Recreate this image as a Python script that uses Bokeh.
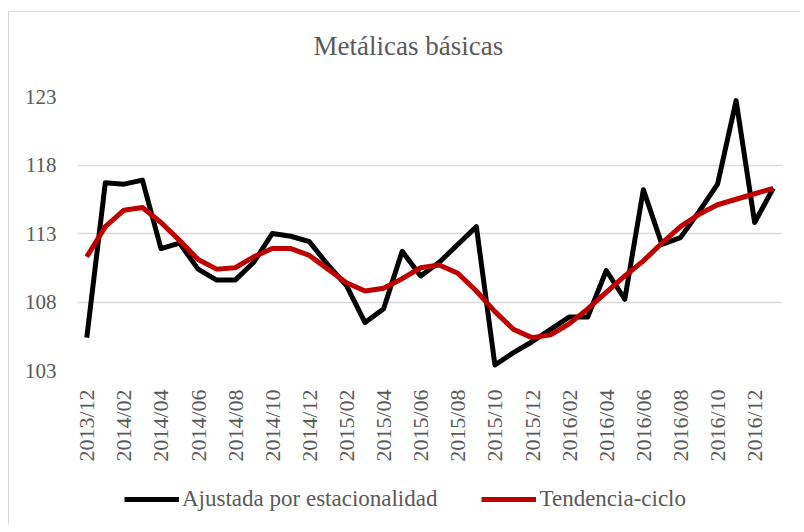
from bokeh.plotting import figure
from bokeh.layouts import column
from bokeh.models import FixedTicker, Legend, LegendItem, Title, Range1d
from bokeh.embed import file_html
from bokeh.resources import INLINE
import math

months = [
    "2013/12",
    "2014/01", "2014/02", "2014/03", "2014/04", "2014/05", "2014/06",
    "2014/07", "2014/08", "2014/09", "2014/10", "2014/11", "2014/12",
    "2015/01", "2015/02", "2015/03", "2015/04", "2015/05", "2015/06",
    "2015/07", "2015/08", "2015/09", "2015/10", "2015/11", "2015/12",
    "2016/01", "2016/02", "2016/03", "2016/04", "2016/05", "2016/06",
    "2016/07", "2016/08", "2016/09", "2016/10", "2016/11", "2016/12",
    "2017/01",
]

ajustada = [
    105.4, 116.7, 116.6, 116.9, 111.9, 112.3, 110.4, 109.6, 109.6, 110.9,
    113.0, 112.8, 112.4, 110.7, 109.2, 106.5, 107.5, 111.7, 109.9, 110.9,
    112.2, 113.5, 103.4, 104.3, 105.1, 106.0, 106.9, 106.9, 110.3, 108.2,
    116.2, 112.2, 112.7, 114.6, 116.6, 122.7, 113.8, 116.3,
]

tendencia = [
    111.3, 113.5, 114.7, 114.9, 113.8, 112.5, 111.1, 110.4, 110.5, 111.3,
    111.9, 111.9, 111.4, 110.4, 109.4, 108.8, 109.0, 109.7, 110.5, 110.7,
    110.1, 108.8, 107.3, 106.0, 105.4, 105.6, 106.4, 107.5, 108.7, 109.9,
    111.0, 112.3, 113.5, 114.4, 115.1, 115.5, 115.9, 116.3,
]

y_ticks = [103, 108, 113, 118, 123]
series_names = ["Ajustada por estacionalidad", "Tendencia-ciclo"]
series_colors = ["black", "#C00000"]
title_text = "Metálicas básicas"

x = list(range(len(months)))
tick_idx = [i for i in x if i % 2 == 0]

FONT = "Liberation Serif"
GRAY = "#595959"

p = figure(frame_width=705, frame_height=274, output_backend="svg",
           toolbar_location=None,
           x_range=(-0.5, len(months) - 0.5), y_range=(103, 123),
           min_border_left=68, min_border_right=18, min_border_top=84,
           min_border_bottom=0)
p.outline_line_color = None

# real title outermost, spacer next to the frame
p.title = Title(text=title_text, align="left", text_font=FONT,
                text_font_size="27px", text_font_style="normal",
                text_color=GRAY, standoff=10, offset=236)
p.add_layout(Title(text=" ", text_font_size="10px", standoff=18), "above")

p.line(x, ajustada, line_color=series_colors[0], line_width=5, line_join="round")
p.line(x, tendencia, line_color=series_colors[1], line_width=5, line_join="round")

p.xaxis.ticker = FixedTicker(ticks=tick_idx)
p.xaxis.major_label_overrides = {i: months[i] for i in tick_idx}
p.xaxis.major_label_orientation = math.pi / 2
p.yaxis.ticker = FixedTicker(ticks=y_ticks)

for ax in (p.xaxis, p.yaxis):
    ax.axis_line_color = None
    ax.major_tick_line_color = None
    ax.minor_tick_line_color = None
    ax.major_label_text_font = FONT
    ax.major_label_text_font_size = "21px"
    ax.major_label_text_color = GRAY
p.xaxis.major_label_text_font_size = "22px"
p.xaxis.major_label_standoff = 13
p.yaxis.major_label_standoff = 15

p.xgrid.grid_line_color = None
p.ygrid.grid_line_color = "#d9d9d9"
p.ygrid.grid_line_width = 1.5

# legend strip below the chart (its own series copies sit outside its view)
p2 = figure(width=791, height=60, output_backend="svg", toolbar_location=None,
            x_axis_type=None, y_axis_type=None,
            x_range=Range1d(-1000, -999), y_range=Range1d(0, 1),
            min_border_left=0, min_border_right=0, min_border_top=0,
            min_border_bottom=0)
p2.outline_line_color = None
p2.xgrid.grid_line_color = None
p2.ygrid.grid_line_color = None
d1 = p2.line(x, ajustada, line_color=series_colors[0], line_width=5)
d2 = p2.line(x, tendencia, line_color=series_colors[1], line_width=5)

legend = Legend(items=[LegendItem(label=series_names[0], renderers=[d1]),
                       LegendItem(label=series_names[1], renderers=[d2])],
                orientation="horizontal", location=(47, 12),
                label_text_font=FONT, label_text_font_size="23px",
                label_text_color=GRAY, glyph_width=55, label_standoff=3,
                spacing=44, border_line_color=None, background_fill_alpha=0,
                padding=0, margin=0)
p2.add_layout(legend, "center")

layout = column(p, p2, spacing=0,
                styles={"margin": "11px 0px 0px 8px",
                        "border-top": "1px solid #d9d9d9",
                        "border-left": "1px solid #d9d9d9"})

open("out.html", "w").write(file_html(layout, INLINE))
